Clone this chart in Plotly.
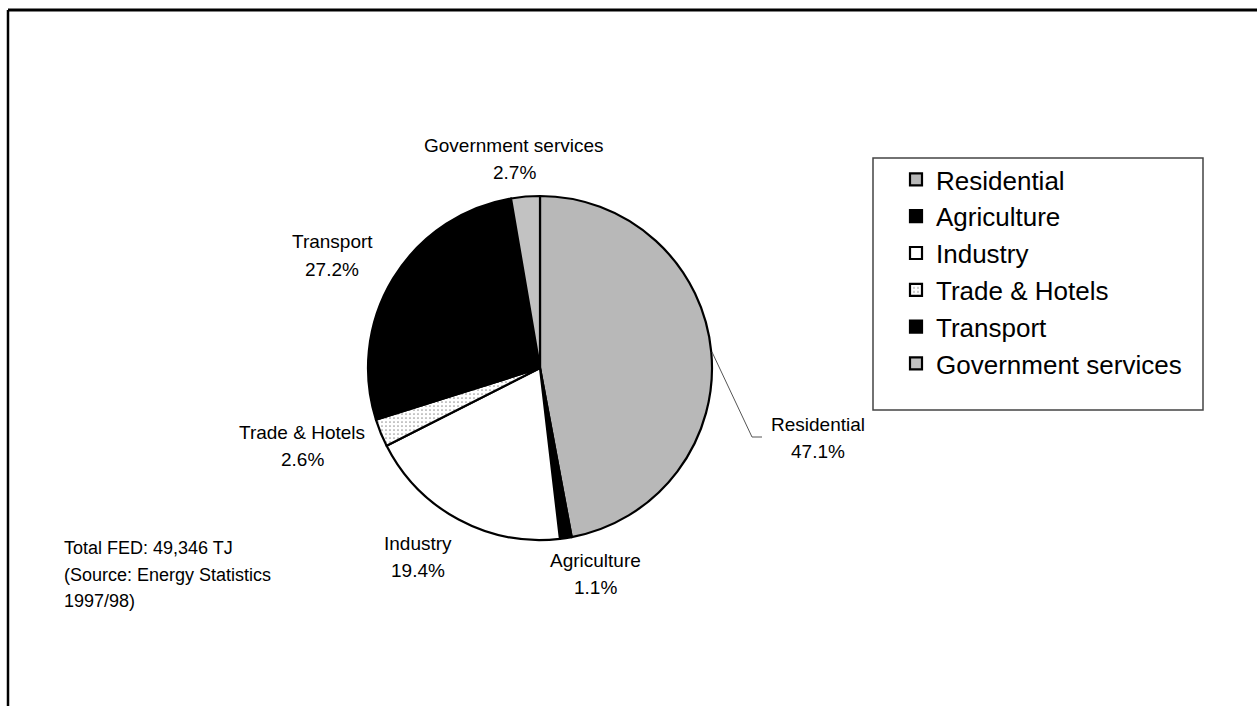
import plotly.graph_objects as go

W, H = 1257, 706

# ---- data ----
sectors = ["Residential", "Agriculture", "Industry", "Trade & Hotels", "Transport", "Government services"]
shares = [47.1, 1.1, 19.4, 2.6, 27.2, 2.7]
pct_labels = ["47.1%", "1.1%", "19.4%", "2.6%", "27.2%", "2.7%"]
note_lines = ["Total FED: 49,346 TJ", "(Source: Energy Statistics", "1997/98)"]

# ---- styles ----
colors = ["#b8b8b8", "#000000", "#ffffff", "#f4f4f4", "#000000", "#c2c2c2"]
shapes_pat = ["", "", "", ".", "", ""]
FONT = "Liberation Sans, Arial, Helvetica, sans-serif"

def px(x):
    return x / W

def py(y):
    return 1 - y / H

cx, cy, R = 540, 368, 172

fig = go.Figure()
fig.add_trace(go.Pie(
    labels=sectors,
    values=shares,
    sort=False,
    direction="clockwise",
    rotation=0,
    textinfo="none",
    hoverinfo="label+percent",
    marker=dict(
        colors=colors,
        line=dict(color="black", width=2.2),
        pattern=dict(shape=shapes_pat, fgcolor="#999999", bgcolor="#ffffff", size=4, solidity=0.15),
    ),
    domain=dict(x=[px(cx - R), px(cx + R)], y=[py(cy + R), py(cy - R)]),
    showlegend=True,
))

# label positions (pixel centres of name line / percent line)
label_pos = {
    "Residential": (818, 424, 451),
    "Agriculture": (595, 560, 587),
    "Industry": (418, 543, 570),
    "Trade & Hotels": (302, 432, 459),
    "Transport": (332, 242, 269),
    "Government services": (514, 145, 173),
}

annotations = []
for name, pct in zip(sectors, pct_labels):
    x, y1, y2 = label_pos[name]
    for txt, yy in ((name, y1), (pct, y2)):
        annotations.append(dict(
            x=px(x), y=py(yy), xref="paper", yref="paper", text=txt,
            showarrow=False, xanchor="center", yanchor="middle",
            font=dict(family=FONT, size=19, color="black"),
        ))

for i, line in enumerate(note_lines):
    annotations.append(dict(
        x=px(62), y=py(548 + i * 26.5), xref="paper", yref="paper", text=line,
        showarrow=False, xanchor="left", yanchor="middle",
        font=dict(family=FONT, size=18, color="black"),
    ))

shapes = [
    # outer frame (top and left)
    dict(type="line", xref="paper", yref="paper", x0=px(8), x1=px(1257), y0=py(10), y1=py(10),
         line=dict(color="black", width=3)),
    dict(type="line", xref="paper", yref="paper", x0=px(8), x1=px(8), y0=py(10), y1=py(706),
         line=dict(color="black", width=2.5)),
    # legend box
    dict(type="rect", xref="paper", yref="paper", x0=px(873), x1=px(1203), y0=py(158), y1=py(410),
         line=dict(color="#444444", width=1.5), fillcolor="rgba(0,0,0,0)"),
    # leader line for Residential
    dict(type="path", xref="paper", yref="paper",
         path=f"M {px(712)},{py(352)} L {px(752)},{py(437)} L {px(762)},{py(437)}",
         line=dict(color="#555555", width=1)),
]

fig.update_layout(
    width=W, height=H,
    margin=dict(l=0, r=0, t=0, b=0),
    paper_bgcolor="white", plot_bgcolor="white",
    font=dict(family=FONT, color="black"),
    legend=dict(
        x=px(896), y=py(156), xanchor="left", yanchor="top",
        font=dict(family=FONT, size=26, color="black"),
        bgcolor="rgba(0,0,0,0)", borderwidth=0,
        tracegroupgap=0, itemwidth=30,
    ),
    annotations=annotations,
    shapes=shapes,
)

fig.write_html("out.html")
